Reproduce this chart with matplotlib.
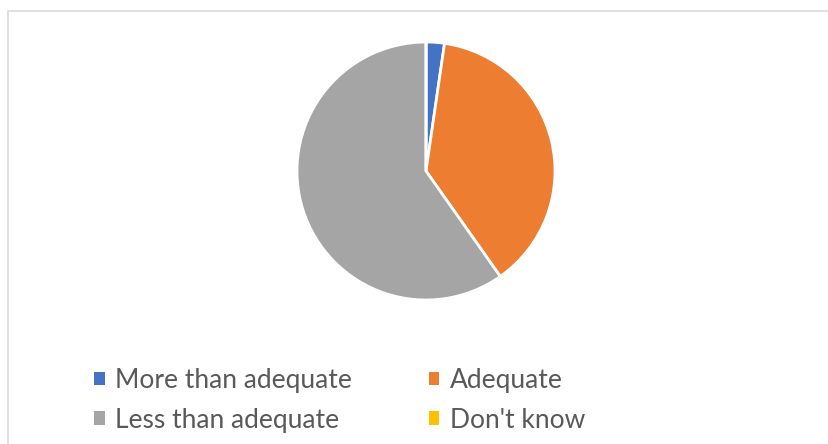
import matplotlib
matplotlib.use("Agg")
import matplotlib.pyplot as plt
from matplotlib.patches import Rectangle, Patch

categories = ["More than adequate", "Adequate", "Less than adequate", "Don't know"]
values = [2, 33, 52, 0]
colors = ["#4472C4", "#ED7D31", "#A5A5A5", "#FFC000"]

plt.rcParams['font.family'] = ['Lato', 'DejaVu Sans']

W, H = 829, 444
fig = plt.figure(figsize=(W / 100, H / 100), dpi=100)
fig.patch.set_facecolor("white")

# outer chart border (only top and left visible)
fig.patches.append(Rectangle((8.5 / W, -0.2), 2.0, 1.2 - 11.5 / H,
                             transform=fig.transFigure, fill=False,
                             edgecolor="#D9D9D9", linewidth=1.2))

cx, cy, r = 426, 171, 129
ax = fig.add_axes([(cx - r) / W, (H - cy - r) / H, 2 * r / W, 2 * r / H])
ax.pie(values, colors=colors, startangle=90, counterclock=False,
       wedgeprops=dict(edgecolor="white", linewidth=2.0))
ax.set_xlim(-1.0, 1.0)
ax.set_ylim(-1.0, 1.0)
ax.set_aspect("equal")
ax.axis("off")

# legend laid out row by row (2 columns)
handles = [Patch(facecolor=c, edgecolor="none") for c in colors]
order = [0, 2, 1, 3]
leg = fig.legend([handles[i] for i in order], [categories[i] for i in order],
                 ncol=2, loc="upper left",
                 bbox_to_anchor=(94 / W, 1 - 368 / H), frameon=False,
                 borderpad=0, borderaxespad=0, fontsize=19,
                 handlelength=0.4, handleheight=0.4, handletextpad=0.4,
                 columnspacing=2.9, labelspacing=0.55)
for t in leg.get_texts():
    t.set_color("#595959")

fig.savefig("out.png", dpi=100)
